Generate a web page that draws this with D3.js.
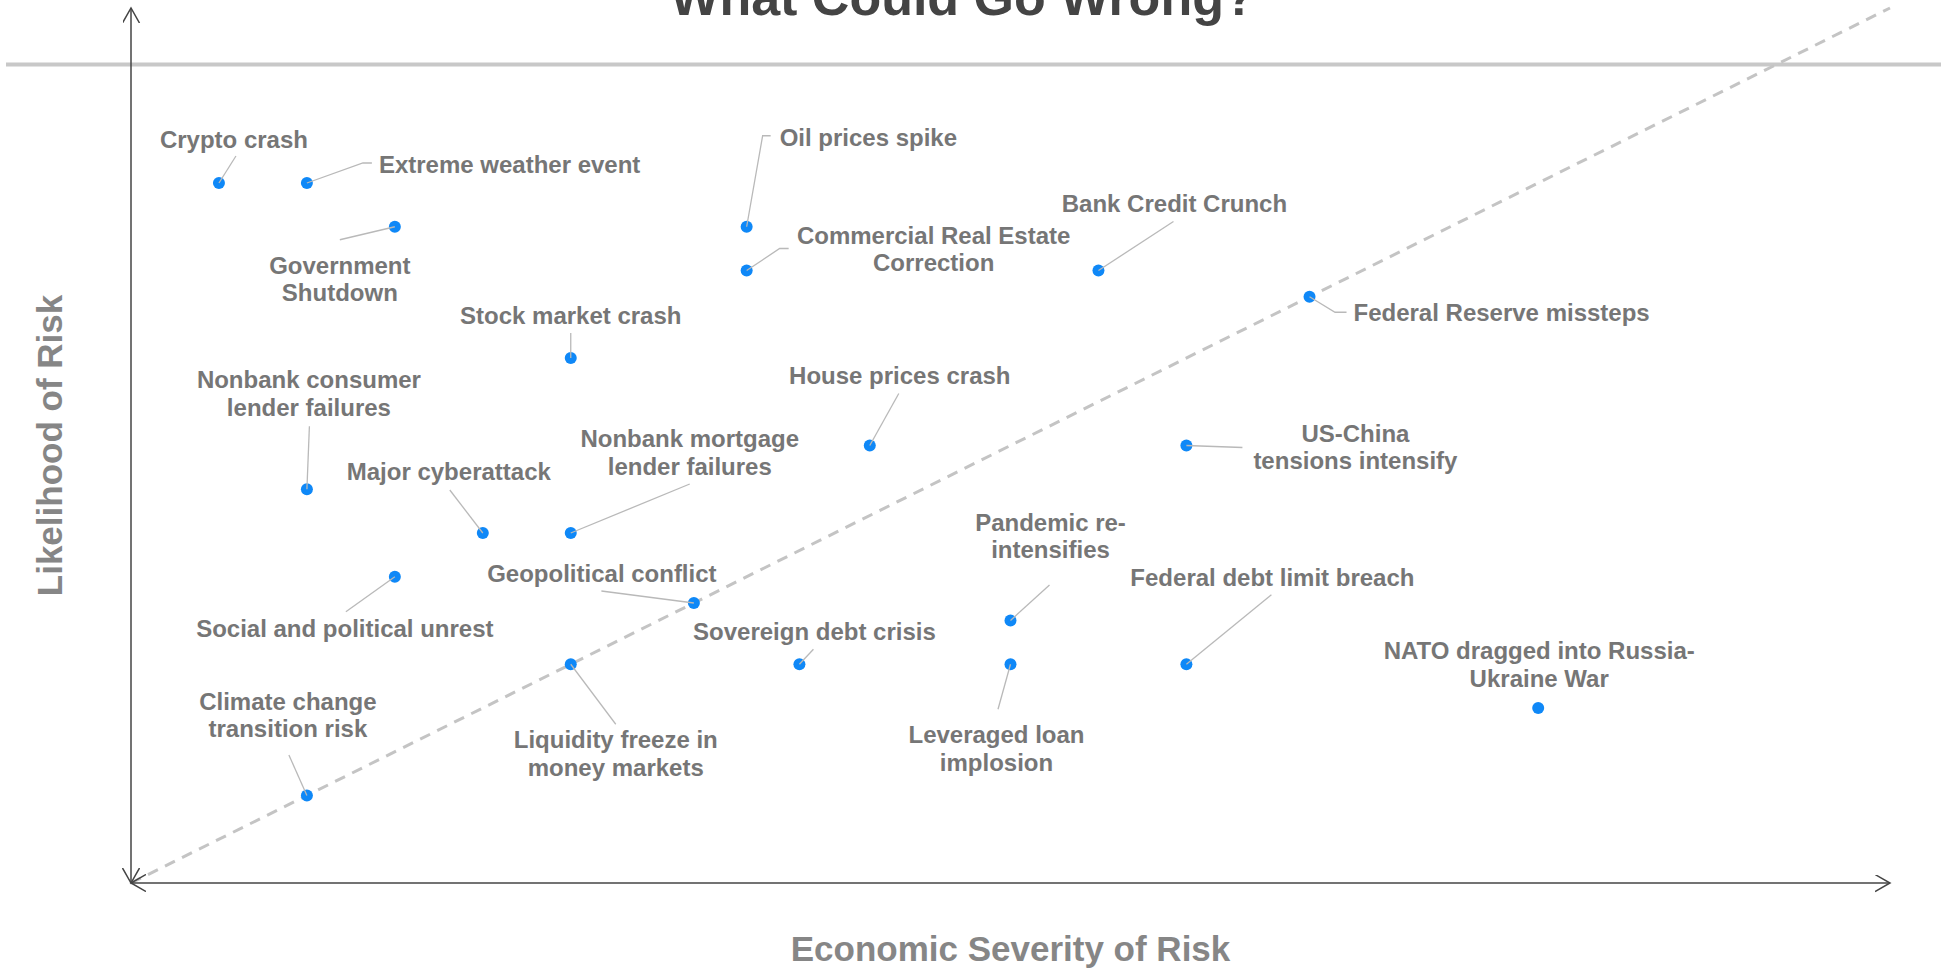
<!DOCTYPE html>
<html lang="en">
<head>
<meta charset="UTF-8">
<title>What Could Go Wrong?</title>
<script src="https://d3js.org/d3.v7.min.js"></script>
<style>
    body {
        margin: 0;
        background: #fff;
        font-family: "Liberation Sans", Arial, sans-serif;
    }
    svg { display: block; }
    .label { font-size: 24px; font-weight: bold; fill: #767676; }
    .connector { fill: none; stroke: #b9b9b9; stroke-width: 1.3; }
    .dot { fill: #0f88f7; }
</style>
</head>
<body>
<svg id="chart"></svg>
<script>
    const svgWidth = 1944;
    const svgHeight = 969;

    // risks: name (lines), economic severity (x, 0-10), likelihood (y, 0-10)
    const riskNames = [
        ["Crypto crash"],
        ["Extreme weather event"],
        ["Government", "Shutdown"],
        ["Oil prices spike"],
        ["Commercial Real Estate", "Correction"],
        ["Bank Credit Crunch"],
        ["Federal Reserve missteps"],
        ["Stock market crash"],
        ["House prices crash"],
        ["US-China", "tensions intensify"],
        ["Nonbank consumer", "lender failures"],
        ["Major cyberattack"],
        ["Nonbank mortgage", "lender failures"],
        ["Social and political unrest"],
        ["Geopolitical conflict"],
        ["Pandemic re-", "intensifies"],
        ["Sovereign debt crisis"],
        ["Leveraged loan", "implosion"],
        ["Federal debt limit breach"],
        ["NATO dragged into Russia-", "Ukraine War"],
        ["Liquidity freeze in", "money markets"],
        ["Climate change", "transition risk"]
    ];
    const severity   = [0.5, 1.0, 1.5, 3.5, 3.5, 5.5, 6.7, 2.5, 4.2, 6.0, 1.0, 2.0, 2.5, 1.5, 3.2, 5.0, 3.8, 5.0, 6.0, 8.0, 2.5, 1.0];
    const likelihood = [8.0, 8.0, 7.5, 7.5, 7.0, 7.0, 6.7, 6.0, 5.0, 5.0, 4.5, 4.0, 4.0, 3.5, 3.2, 3.0, 2.5, 2.5, 2.5, 2.0, 2.5, 1.0];

    const chartTitle = "What Could Go Wrong?";
    const xTitle = "Economic Severity of Risk";
    const yTitle = "Likelihood of Risk";

    // label placement relative to the dot (pixels): [dx, dy, anchor]
    const labelPos = [
        [15, -35, "middle"], [72, -10, "start"], [-55, 47, "middle"], [33, -81, "start"],
        [187, -27, "middle"], [76, -59, "middle"], [44, 24, "start"], [0, -34, "middle"],
        [30, -62, "middle"], [169, -4, "middle"], [2, -101, "middle"], [-34, -53, "middle"],
        [119, -86, "middle"], [-50, 60, "middle"], [-92, -21, "middle"], [40, -90, "middle"],
        [15, -24, "middle"], [-14, 79, "middle"], [86, -78, "middle"], [1, -49, "middle"],
        [45, 84, "middle"], [-19, -86, "middle"]
    ];
    // connector points relative to the dot (pixels), drawn from the label to the dot
    const connectors = [
        [[17, -27]], [[65, -20], [56, -20]], [[-55, 13]], [[24, -91], [16, -91]],
        [[42, -22], [33, -22]], [[75, -49]], [[37, 15.5], [25.5, 15.5]], [[0, -25]],
        [[29, -52]], [[56, 2]], [[2.5, -63]], [[-33, -43]],
        [[119, -49]], [[-49, 35]], [[-92.5, -12]], [[39, -35.5]],
        [[14, -15]], [[-12.5, 45]], [[85, -69.5]], [],
        [[45, 60]], [[-18, -40.5]]
    ];

    const svg = d3.select("#chart")
        .attr("width", svgWidth)
        .attr("height", svgHeight);

    const x = d3.scaleLinear().domain([0, 10]).range([131, 1890]);
    const y = d3.scaleLinear().domain([0, 10]).range([883, 8]);

    // arrow head marker
    svg.append("defs").append("marker")
        .attr("id", "arrow")
        .attr("markerUnits", "userSpaceOnUse")
        .attr("markerWidth", 18)
        .attr("markerHeight", 18)
        .attr("refX", 15)
        .attr("refY", 8.5)
        .attr("orient", "auto-start-reverse")
        .append("path")
        .attr("d", "M0,0 L15,8.5 L0,17")
        .attr("fill", "none")
        .attr("stroke", "#444")
        .attr("stroke-width", 1.5);

    // title + rule
    svg.append("text")
        .attr("x", 963)
        .attr("y", 15)
        .attr("text-anchor", "middle")
        .style("font-size", "52px")
        .style("font-weight", "bold")
        .style("fill", "#444")
        .text(chartTitle);

    svg.append("line")
        .attr("x1", 6).attr("x2", 1941)
        .attr("y1", 64.5).attr("y2", 64.5)
        .attr("stroke", "#c8c8c8")
        .attr("stroke-width", 4);

    // diagonal reference
    svg.append("line")
        .attr("x1", x(0)).attr("y1", y(0))
        .attr("x2", x(10)).attr("y2", y(10))
        .attr("stroke", "#c4c4c4")
        .attr("stroke-width", 3)
        .attr("stroke-dasharray", "11,8");

    // axes
    svg.append("line")
        .attr("x1", x(0)).attr("y1", y(0))
        .attr("x2", x(10)).attr("y2", y(0))
        .attr("stroke", "#444").attr("stroke-width", 1.5)
        .attr("marker-start", "url(#arrow)")
        .attr("marker-end", "url(#arrow)");

    svg.append("line")
        .attr("x1", x(0)).attr("y1", y(0))
        .attr("x2", x(0)).attr("y2", y(10))
        .attr("stroke", "#444").attr("stroke-width", 1.5)
        .attr("marker-start", "url(#arrow)")
        .attr("marker-end", "url(#arrow)");

    svg.append("text")
        .attr("x", (x(0) + x(10)) / 2)
        .attr("y", 961)
        .attr("text-anchor", "middle")
        .style("font-size", "35px")
        .style("font-weight", "bold")
        .style("fill", "#868686")
        .text(xTitle);

    svg.append("text")
        .attr("transform", `translate(62, ${(y(0) + y(10)) / 2}) rotate(-90)`)
        .attr("text-anchor", "middle")
        .style("font-size", "35px")
        .style("font-weight", "bold")
        .style("fill", "#868686")
        .text(yTitle);

    const risks = riskNames.map((name, i) => ({
        name: name,
        sx: x(severity[i]),
        ly: y(likelihood[i]),
        pos: labelPos[i],
        conn: connectors[i]
    }));

    // dots
    svg.selectAll(".dot")
        .data(risks)
        .enter()
        .append("circle")
        .attr("class", "dot")
        .attr("cx", d => d.sx)
        .attr("cy", d => d.ly)
        .attr("r", 6);

    // connectors
    svg.selectAll(".connector")
        .data(risks.filter(d => d.conn.length))
        .enter()
        .append("polyline")
        .attr("class", "connector")
        .attr("points", d => d.conn.map(p => [d.sx + p[0], d.ly + p[1]])
            .concat([[d.sx, d.ly]])
            .map(p => p.join(",")).join(" "));

    // labels
    const labels = svg.selectAll(".label")
        .data(risks)
        .enter()
        .append("text")
        .attr("class", "label")
        .attr("text-anchor", d => d.pos[2])
        .attr("x", d => d.sx + d.pos[0])
        .attr("y", d => d.ly + d.pos[1]);

    labels.selectAll("tspan")
        .data(d => d.name.map(line => ({ line, x: d.sx + d.pos[0] })))
        .enter()
        .append("tspan")
        .attr("x", t => t.x)
        .attr("dy", (t, i) => i === 0 ? 0 : 27.6)
        .text(t => t.line);
</script>
</body>
</html>
